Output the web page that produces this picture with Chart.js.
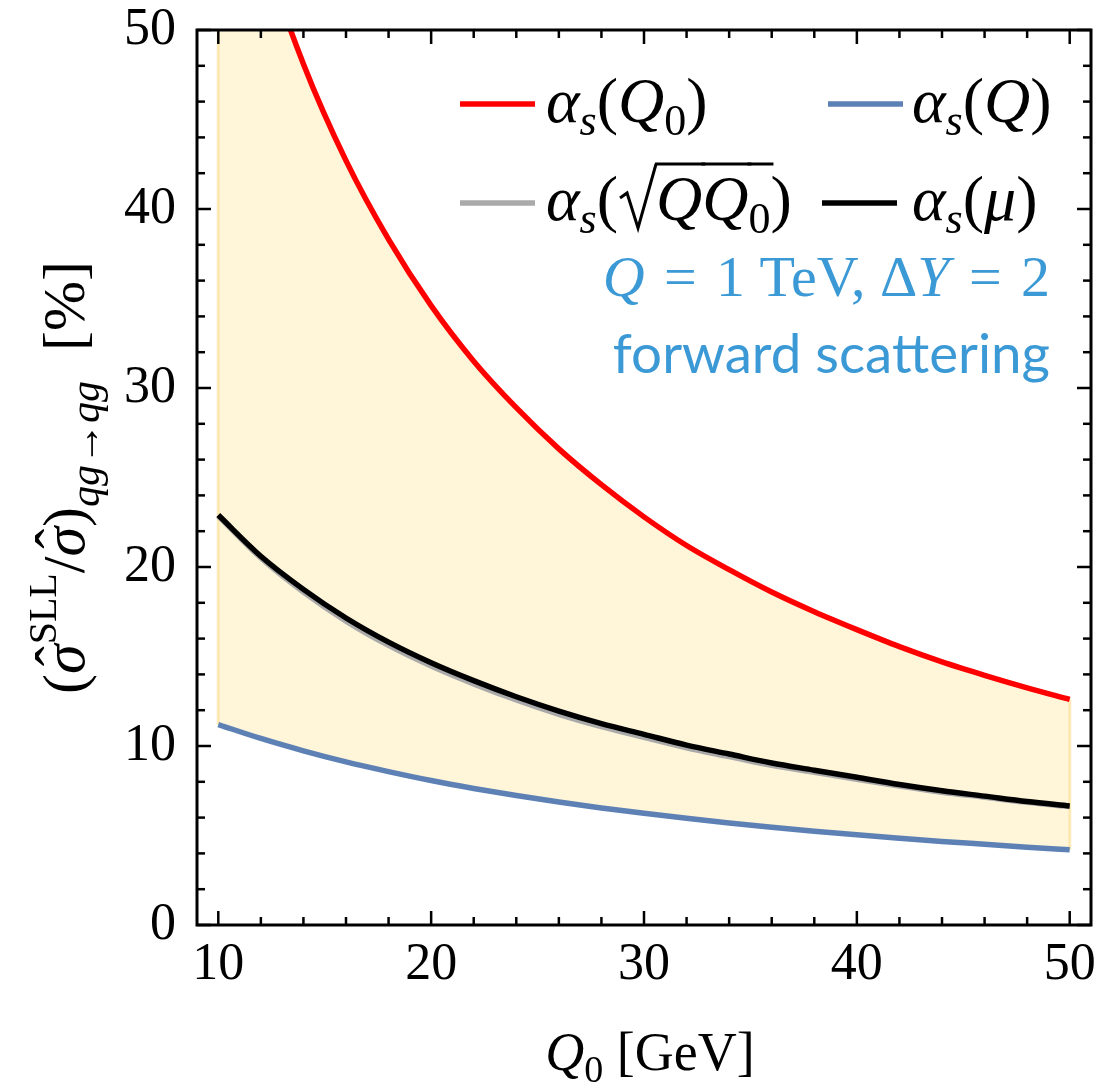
<!DOCTYPE html>
<html lang="en">
<head>
<meta charset="UTF-8">
<title>SLL fraction, qg -> qg</title>
<script src="https://cdn.jsdelivr.net/npm/chart.js@4.4.0/dist/chart.umd.min.js"></script>
<style>
  html, body { margin: 0; padding: 0; background: #fff; }
  canvas { display: block; }
</style>
</head>
<body>
<canvas id="chart" width="1101" height="1088"></canvas>
<script>
// Q0 grid in GeV
const q0Values = [10, 12, 14, 16, 18, 20, 22, 24, 26, 28, 30, 32, 34, 36, 38, 40, 42, 44, 46, 48, 50];
// ratio in %
const alphaQ0   = [63.6, 54.9, 48.1, 42.7, 38.3, 34.6, 31.5, 28.9, 26.6, 24.6, 22.8, 21.2, 19.85, 18.6, 17.5, 16.5, 15.55, 14.7, 13.95, 13.25, 12.6];
const alphaQ    = [11.2, 10.42, 9.73, 9.11, 8.57, 8.07, 7.63, 7.23, 6.87, 6.54, 6.24, 5.96, 5.7, 5.46, 5.24, 5.04, 4.85, 4.67, 4.51, 4.35, 4.2];
const alphaSqrt = [22.85, 20.5, 18.6, 16.98, 15.62, 14.47, 13.47, 12.57, 11.77, 11.08, 10.48, 9.9, 9.41, 8.92, 8.53, 8.14, 7.76, 7.42, 7.14, 6.85, 6.62];
const alphaMu   = [22.9, 20.6, 18.75, 17.15, 15.8, 14.65, 13.65, 12.75, 11.95, 11.25, 10.65, 10.05, 9.55, 9.05, 8.65, 8.25, 7.85, 7.5, 7.2, 6.9, 6.65];

const xTicks = [10, 20, 30, 40, 50];
const yTicks = [0, 10, 20, 30, 40, 50];
const xMinor = [12, 14, 16, 18, 22, 24, 26, 28, 32, 34, 36, 38, 42, 44, 46, 48];
const yMinor = [2, 4, 6, 8, 12, 14, 16, 18, 22, 24, 26, 28, 32, 34, 36, 38, 42, 44, 46, 48];

const RED = '#ff0000', BLUE = '#5e81b5', GRAY = '#aaaaaa', BLACK = '#000000';
const BAND = '#fff5d9', NOTE = '#3b99d6';
const SERIF = '"Liberation Serif", "DejaVu Serif", serif';

function pts(ys) { return q0Values.map((x, i) => ({ x: x, y: ys[i] })); }

// draws a row of text pieces: [text, font, dy, extra]
function drawRuns(ctx, runs, x, y, align) {
  const widthOf = r => { if (r[3] && r[3].rad) return r[3].rad; ctx.font = r[1]; return ctx.measureText(r[0]).width; };
  let w = 0;
  runs.forEach(r => { w += widthOf(r); });
  let cx = align === 'right' ? x - w : align === 'center' ? x - w / 2 : x;
  ctx.textAlign = 'left';
  ctx.textBaseline = 'alphabetic';
  runs.forEach(r => {
    const tw = widthOf(r);
    const yy = y + (r[2] || 0);
    if (r[3] && r[3].rad) {
      // hand drawn radical sign
      ctx.save();
      ctx.strokeStyle = ctx.fillStyle;
      ctx.lineWidth = 3;
      ctx.lineJoin = 'miter';
      ctx.beginPath();
      ctx.moveTo(cx + 2, yy - 22);
      ctx.lineTo(cx + 9, yy - 27);
      ctx.lineTo(cx + 20, yy + 8);
      ctx.lineTo(cx + tw, yy - r[3].top);
      ctx.stroke();
      ctx.restore();
      cx += tw;
      return;
    }
    ctx.font = r[1];
    ctx.fillText(r[0], cx, yy);
    if (r[3] === 'hat') {
      ctx.save();
      ctx.font = r[1].replace('italic ', '');
      ctx.textAlign = 'center';
      ctx.fillText('\u02C6', cx + tw / 2 + 3, yy - 8);
      ctx.restore();
    }
    if (r[3] && r[3].over) {
      ctx.save();
      ctx.lineWidth = 3;
      ctx.beginPath();
      ctx.moveTo(cx - 1, yy - r[3].over);
      ctx.lineTo(cx + tw + 3, yy - r[3].over);
      ctx.strokeStyle = ctx.fillStyle;
      ctx.stroke();
      ctx.restore();
    }
    cx += tw;
  });
  return w;
}

const decorPlugin = {
  id: 'decor',
  beforeDatasetsDraw(chart) {
    // faint edges of the band at both ends
    const { ctx, chartArea, scales: { x, y } } = chart;
    ctx.save();
    ctx.beginPath();
    ctx.rect(chartArea.left, chartArea.top, chartArea.right - chartArea.left, chartArea.bottom - chartArea.top);
    ctx.clip();
    ctx.strokeStyle = '#fde9b4';
    ctx.lineWidth = 3;
    [0, q0Values.length - 1].forEach(i => {
      const px = x.getPixelForValue(q0Values[i]);
      ctx.beginPath();
      ctx.moveTo(px, y.getPixelForValue(alphaQ[i]));
      ctx.lineTo(px, y.getPixelForValue(alphaQ0[i]));
      ctx.stroke();
    });
    ctx.restore();
  },
  afterDraw(chart) {
    const { ctx, chartArea: a, scales: { x, y } } = chart;
    ctx.save();
    // ticks on all four sides, pointing inward
    ctx.strokeStyle = '#000';
    ctx.lineWidth = 2.5;
    const tick = (x1, y1, x2, y2) => { ctx.beginPath(); ctx.moveTo(x1, y1); ctx.lineTo(x2, y2); ctx.stroke(); };
    xTicks.concat(xMinor).forEach(v => {
      const len = xTicks.includes(v) ? 14 : 8;
      const px = x.getPixelForValue(v);
      tick(px, a.bottom, px, a.bottom - len);
      tick(px, a.top, px, a.top + len);
    });
    yTicks.concat(yMinor).forEach(v => {
      const len = yTicks.includes(v) ? 14 : 8;
      const py = y.getPixelForValue(v);
      tick(a.left, py, a.left + len, py);
      tick(a.right, py, a.right - len, py);
    });
    // frame
    ctx.lineWidth = 3;
    ctx.strokeRect(a.left, a.top, a.right - a.left, a.bottom - a.top);

    // legend
    const I = s => 'italic ' + s + 'px ' + SERIF;
    const R = s => s + 'px ' + SERIF;
    const key = (c, x1, yy) => {
      ctx.strokeStyle = c; ctx.lineWidth = 5.5;
      ctx.beginPath(); ctx.moveTo(x1, yy); ctx.lineTo(x1 + 75, yy); ctx.stroke();
    };
    ctx.fillStyle = '#000';
    key(RED, 460, 104);
    drawRuns(ctx, [['\u03B1', I(64)], ['s', I(44), 13], ['(', R(64)], ['Q', I(64)], ['0', R(44), 13], [')', R(64)]], 546, 122, 'left');
    key(BLUE, 828, 104);
    drawRuns(ctx, [['\u03B1', I(64)], ['s', I(44), 13], ['(', R(64)], ['Q', I(64)], [')', R(64)]], 912, 122, 'left');
    key(GRAY, 460, 203);
    ctx.fillStyle = '#000';
    drawRuns(ctx, [['\u03B1', I(64)], ['s', I(44), 13], ['(', R(64)], ['', R(64), 0, { rad: 38, top: 56 }],
                   ['Q', I(64), 0, { over: 56 }], ['Q', I(64), 0, { over: 56 }], ['0', R(44), 13, { over: 69 }], [')', R(64)]], 546, 220, 'left');
    key(BLACK, 822, 203);
    drawRuns(ctx, [['\u03B1', I(64)], ['s', I(44), 13], ['(', R(64)], ['\u03BC', I(64)], [')', R(64)]], 912, 220, 'left');

    // annotation
    ctx.fillStyle = NOTE;
    drawRuns(ctx, [['Q', I(58)], ['\u2004=\u20041 TeV, \u0394', R(58)], ['Y', I(58)], ['\u2004=\u20042', R(58)]], 1050, 296, 'right');
    ctx.font = '50px Lato, "Open Sans", sans-serif';
    const fw = ctx.measureText('forward scattering').width;
    ctx.font = (50 * 437 / fw).toFixed(1) + 'px Lato, "Open Sans", sans-serif';
    ctx.textAlign = 'right';
    ctx.fillText('forward scattering', 1050, 373);

    // axis titles
    ctx.fillStyle = '#000';
    drawRuns(ctx, [['Q', I(54)], ['0', R(38), 12], [' [GeV]', R(54)]], (a.left + a.right) / 2 + 6, 1070, 'center');
    ctx.translate(84, (a.top + a.bottom) / 2);
    ctx.rotate(-Math.PI / 2);
    drawRuns(ctx, [['(', R(60)], ['\u03C3', I(60), 0, 'hat'], ['SLL', R(40), -28], ['/', R(60)], ['\u03C3', I(60), 0, 'hat'], [')', R(60)],
                   ['qg', I(42), 15], ['\u2192', R(42), 15], ['qg', I(42), 15], ['  [%]', R(60)]], 0, 0, 'center');
    ctx.restore();
  }
};

new Chart(document.getElementById('chart'), {
  type: 'line',
  data: {
    datasets: [
      { label: 'αs(Q0)', data: pts(alphaQ0), borderColor: RED, borderWidth: 5.5, fill: { target: 1, above: BAND, below: BAND }, order: 2 },
      { label: 'αs(Q)', data: pts(alphaQ), borderColor: BLUE, borderWidth: 5.5, fill: false, order: 3 },
      { label: 'αs(√(QQ0))', data: pts(alphaSqrt), borderColor: GRAY, borderWidth: 5.5, fill: false, order: 1 },
      { label: 'αs(μ)', data: pts(alphaMu), borderColor: BLACK, borderWidth: 5.5, fill: false, order: 0 }
    ]
  },
  options: {
    responsive: false,
    animation: false,
    devicePixelRatio: 1,
    layout: { padding: { top: 30, right: 10, left: 0, bottom: 0 } },
    elements: { point: { radius: 0 }, line: { cubicInterpolationMode: 'monotone', borderCapStyle: 'butt' } },
    plugins: {
      legend: { display: false },
      tooltip: { enabled: false },
      filler: { drawTime: 'beforeDatasetsDraw' }
    },
    scales: {
      x: {
        type: 'linear', min: 9, max: 51,
        grid: { display: false }, border: { display: false },
        afterBuildTicks: s => { s.ticks = xTicks.map(v => ({ value: v })); },
        afterFit: s => { s.height = 163; s.paddingLeft = 0; s.paddingRight = 0; },
        ticks: { font: { family: SERIF, size: 52 }, color: '#000', padding: 1, maxRotation: 0 }
      },
      y: {
        min: 0, max: 50,
        grid: { display: false }, border: { display: false },
        afterBuildTicks: s => { s.ticks = yTicks.map(v => ({ value: v })); },
        afterFit: s => { s.width = 197; s.paddingTop = 0; s.paddingBottom = 0; },
        ticks: { font: { family: SERIF, size: 52 }, color: '#000', padding: 13 }
      }
    }
  },
  plugins: [decorPlugin]
});
</script>
</body>
</html>
